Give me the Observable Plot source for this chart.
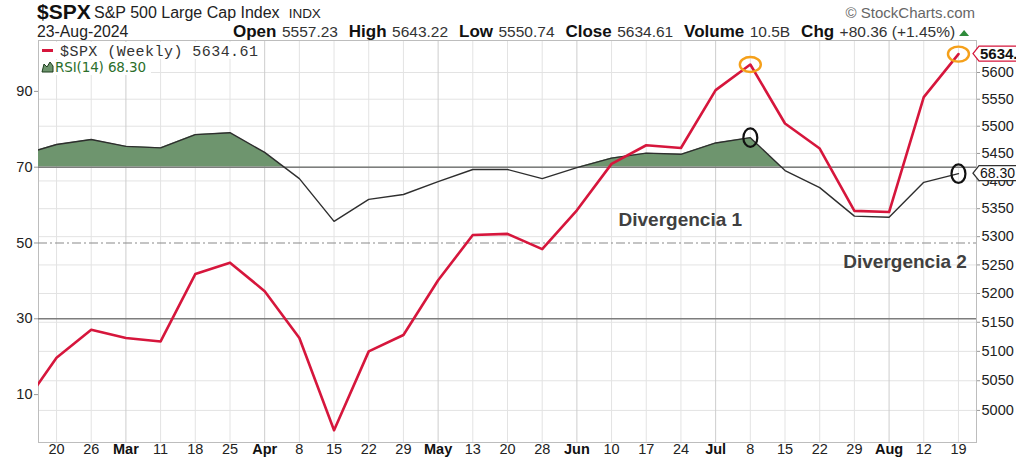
<!DOCTYPE html>
<html><head><meta charset="utf-8">
<script src="https://cdn.jsdelivr.net/npm/d3@7"></script>
<script src="https://cdn.jsdelivr.net/npm/@observablehq/plot@0.6"></script>
<style>
body{margin:0;background:#fff;font-family:"Liberation Sans",Arial,sans-serif;}
#wrap{position:relative;width:1016px;height:460px;overflow:hidden;background:#fff;}
#head{position:absolute;left:0;top:0;}
.layer{position:absolute;left:0;top:39px;}
#legend{position:absolute;left:0;top:0;}
</style></head>
<body><div id="wrap">
<svg id="head" width="1016" height="46"></svg>
<div class="layer" id="layerA"></div>
<div class="layer" id="layerB"></div>
<div class="layer" id="layerC"></div>
<svg id="legend" width="300" height="80"></svg>
</div>
<script>
// ---- data ----
const weekLabels = ["20","26","Mar","11","18","25","Apr","8","15","22","29","May","13","20","28","Jun","10","17","24","Jul","8","15","22","29","Aug","12","19"];
const monthNames = ["Mar","Apr","May","Jun","Jul","Aug"];
// weekly closes; first value = week before Feb 20 (only partly visible at left edge)
const spxClose = [5005, 5089, 5137, 5123, 5117, 5234, 5254, 5204, 5123, 4967, 5100, 5128, 5223, 5303, 5305, 5278, 5347, 5431, 5465, 5460, 5567, 5615, 5505, 5459, 5346, 5344, 5554, 5634.61];
const rsi14 = [73.3, 76.0, 77.3, 75.5, 75.1, 78.6, 79.1, 73.9, 67.0, 55.7, 61.5, 62.8, 66.2, 69.4, 69.4, 67.0, 69.9, 72.4, 73.7, 73.4, 76.4, 77.8, 69.1, 64.6, 57.1, 56.8, 66.0, 68.30];
const priceTicks = [5000, 5050, 5100, 5150, 5200, 5250, 5300, 5350, 5400, 5450, 5500, 5550, 5600];
const rsiTicks = [10, 30, 50, 70, 90];
const rsiBands = [30, 70];
const rsiMid = [50];
const circledWeeks = [20, 26]; // Jul 8 and Aug 19
const notes = [{text:"Divergencia 1", i:16.2, rsi:56.2}, {text:"Divergencia 2", i:22.68, rsi:44.9}];
const symbolName = "$SPX", symbolDesc = "S&P 500 Large Cap Index", exch = "INDX", dateText = "23-Aug-2024";
const quoteLabels = ["Open","High","Low","Close","Volume","Chg"];
const quoteValues = ["5557.23","5643.22","5550.74","5634.61","10.5B","+80.36 (+1.45%)"];

// ---- layout ----
const W = 1016, H = 421, mT = 1, mB = 18, mL = 38, mR = 40;
const xDomain = [-0.52, 26.52];
const rsiDomain = [-2.64, 103.43];
const priceDomain = [4946.5, 5660.4];
const rows = spxClose.map((v, k) => ({i: k - 1, close: v, rsi: rsi14[k]}));
const weekIdx = weekLabels.map((_, i) => i);
const isMonth = i => monthNames.includes(weekLabels[i]);
const font = '"Liberation Sans", Arial, sans-serif';

function ellipse(kx, ky) {
  return {draw(ctx, size) {
    const r = Math.sqrt(size / Math.PI), rx = r * kx, ry = r * ky, k = 0.5523;
    ctx.moveTo(rx, 0);
    ctx.bezierCurveTo(rx, ry * k, rx * k, ry, 0, ry);
    ctx.bezierCurveTo(-rx * k, ry, -rx, ry * k, -rx, 0);
    ctx.bezierCurveTo(-rx, -ry * k, -rx * k, -ry, 0, -ry);
    ctx.bezierCurveTo(rx * k, -ry, rx, -ry * k, rx, 0);
    ctx.closePath();
  }};
}
const base = {width: W, height: H, marginTop: mT, marginBottom: mB, marginLeft: mL, marginRight: mR,
  style: {fontFamily: font, fontSize: "14.5px", background: "transparent", overflow: "visible", color: "#222"}};

// Layer A: grid, frame, right price axis
const plotA = Plot.plot({...base,
  x: {domain: xDomain, axis: null},
  y: {type: "log", domain: priceDomain, axis: null},
  marks: [
    Plot.ruleY(priceTicks, {stroke: "#e3e3e3", strokeWidth: 1}),
    Plot.ruleX(weekIdx.filter(i => !isMonth(i)), {stroke: "#e3e3e3", strokeWidth: 1}),
    Plot.ruleX(weekIdx.filter(isMonth), {stroke: "#cdcdcd", strokeWidth: 1}),
    Plot.frame({stroke: "#bdbdbd"}),
    Plot.axisY(priceTicks, {anchor: "right", tickSize: 3, tickPadding: 2, stroke: "#999", fill: "#222",
      tickFormat: d => String(d), label: null, fontSize: 14.5})
  ]
});
document.getElementById("layerA").appendChild(plotA);

// Layer B: RSI
const plotB = Plot.plot({...base,
  x: {domain: xDomain, axis: null},
  y: {domain: rsiDomain, axis: null},
  marks: [
    Plot.areaY(rows, {x: "i", y1: 70, y2: "rsi", fill: "#6e956e", clip: true}),
    Plot.ruleY(rsiBands, {stroke: "#7d7d7d", strokeWidth: 1.4}),
    Plot.ruleY(rsiMid, {stroke: "#8a8a8a", strokeWidth: 1.2, strokeDasharray: "9,3,2,3"}),
    Plot.lineY(rows, {x: "i", y: "rsi", stroke: "#2e2e2e", strokeWidth: 1.4, clip: true}),
    Plot.dot(rows.filter(d => circledWeeks.includes(d.i)), {x: "i", y: "rsi", r: 9.3, symbol: ellipse(0.75, 1), stroke: "#111", strokeWidth: 2.2, fill: "none"}),
    Plot.text(notes, {x: "i", y: "rsi", text: "text", textAnchor: "start", fontSize: 19, fontWeight: "bold", fill: "#404040"}),
    Plot.axisY(rsiTicks, {anchor: "left", tickSize: 4, tickPadding: 2, stroke: "#999", fill: "#222", label: null, fontSize: 14.5}),
    Plot.text(weekIdx.filter(i => !isMonth(i)), {x: d => d, text: d => weekLabels[d], frameAnchor: "bottom", dy: 11, fontSize: 14.5, fill: "#222"}),
    Plot.text(weekIdx.filter(isMonth), {x: d => d, text: d => weekLabels[d], frameAnchor: "bottom", dy: 11, fontSize: 14.5, fontWeight: "bold", fill: "#111"})
  ]
});
document.getElementById("layerB").appendChild(plotB);
// clip RSI fill to the region above the 70 level
{
  const y70 = plotB.scale("y").apply(70);
  const svg = d3.select(plotB);
  svg.append("defs").append("clipPath").attr("id", "above70")
    .append("rect").attr("x", 0).attr("y", 0).attr("width", W).attr("height", y70);
  svg.selectAll('g[aria-label="area"] path').attr("clip-path", "url(#above70)");
}

// Layer C: price line
const plotC = Plot.plot({...base,
  x: {domain: xDomain, axis: null},
  y: {type: "log", domain: priceDomain, axis: null},
  marks: [
    Plot.lineY(rows, {x: "i", y: "close", stroke: "#d6163c", strokeWidth: 2.6, clip: true}),
    Plot.dot(rows.filter(d => circledWeeks.includes(d.i)), {x: "i", y: "close", r: 7.5, symbol: ellipse(1.4, 1), stroke: "#f5a01a", strokeWidth: 2.4, fill: "none"})
  ]
});
document.getElementById("layerC").appendChild(plotC);

// value tags on the right edge
function tag(svgEl, cy, label, stroke, bold) {
  const g = d3.select(svgEl).append("g").attr("text-anchor", "start");
  const x0 = 973, h = 7.5;
  g.append("path").attr("d", `M${x0},${cy}L${x0 + 6},${cy - h}L1030,${cy - h}L1030,${cy + h}L${x0 + 6},${cy + h}Z`)
    .attr("fill", "#fff").attr("stroke", stroke).attr("stroke-width", 1.3);
  g.append("text").attr("x", 980).attr("y", cy).attr("dy", "0.36em").attr("font-size", bold ? 15 : 14)
    .attr("text-anchor", "start").attr("font-weight", bold ? "bold" : null).attr("fill", "#111").text(label);
}
const lastClose = spxClose[spxClose.length - 1], lastRsi = rsi14[rsi14.length - 1];
tag(plotC, plotB.scale("y").apply(lastRsi), lastRsi.toFixed(2), "#333", false);
tag(plotC, Math.max(plotC.scale("y").apply(lastClose), 11), lastClose.toFixed(2), "#d6163c", true);

// legend (inside plot, top-left)
{
  const lg = d3.select("#legend");
  const r1 = lg.append("rect").attr("fill", "#fff");
  const r2 = lg.append("rect").attr("fill", "#fff");
  lg.append("line").attr("x1", 42).attr("x2", 53).attr("y1", 50.5).attr("y2", 50.5).attr("stroke", "#d6163c").attr("stroke-width", 3);
  const t1 = lg.append("text").attr("x", 60).attr("y", 56).attr("font-family", '"Liberation Mono","DejaVu Sans Mono",monospace')
    .attr("font-size", 15).attr("fill", "#333").attr("textLength", 198).attr("lengthAdjust", "spacing")
    .text(`${symbolName} (Weekly) ${lastClose.toFixed(2)}`);
  lg.append("path").attr("d", "M42,72L44,64L47,67L50,62L53,66L53,72Z").attr("fill", "#6e956e").attr("stroke", "#1d3d1d").attr("stroke-width", 1);
  const t2 = lg.append("text").attr("x", 55).attr("y", 72).attr("font-family", '"DejaVu Sans",sans-serif')
    .attr("font-size", 13.5).attr("fill", "#2b6e2b").attr("textLength", 91).attr("lengthAdjust", "spacing")
    .text(`RSI(14) ${lastRsi.toFixed(2)}`);
  r1.attr("x", 39).attr("y", 42).attr("width", 224).attr("height", 17);
  r2.attr("x", 39).attr("y", 60).attr("width", 112).attr("height", 15);
}

// header
{
  const h = d3.select("#head").attr("font-family", font);
  h.append("text").attr("x", 37).attr("y", 19).attr("font-size", 21).attr("font-weight", "bold").attr("fill", "#111").text(symbolName);
  const d = h.append("text").attr("x", 94).attr("y", 18).attr("font-size", 16).attr("fill", "#222").text(symbolDesc);
  h.append("text").attr("x", 94 + d.node().getComputedTextLength() + 9).attr("y", 18).attr("font-size", 13.5).attr("fill", "#222").text(exch);
  h.append("text").attr("x", 975).attr("y", 18).attr("font-size", 15).attr("text-anchor", "end").attr("fill", "#666").text("\u00A9 StockCharts.com");
  h.append("text").attr("x", 37).attr("y", 37).attr("font-size", 15.8).attr("fill", "#222").text(dateText);
  // stats line: natural widths, gaps spread so the line runs from x=233 to the arrow at x=966
  const labs = quoteLabels.map(l => h.append("text").attr("y", 37).attr("font-size", 17).attr("font-weight", "bold").attr("fill", "#111").text(l));
  const vals = quoteValues.map(v => h.append("text").attr("y", 37).attr("font-size", 15.5).attr("fill", "#333").text(v));
  const natural = d3.sum(labs, t => t.node().getComputedTextLength()) + d3.sum(vals, t => t.node().getComputedTextLength());
  const g1 = Math.max(3, (966 - 233 - natural) / 18);
  let x = 233;
  labs.forEach((t, k) => {
    t.attr("x", x); x += t.node().getComputedTextLength() + g1;
    vals[k].attr("x", x); x += vals[k].node().getComputedTextLength() + 2 * g1;
  });
  const ax = x - 2 * g1 + 4;
  h.append("path").attr("d", `M${ax},36L${ax + 5},30L${ax + 10},36Z`).attr("fill", "#2e8b3a");
}
</script>
</body></html>
